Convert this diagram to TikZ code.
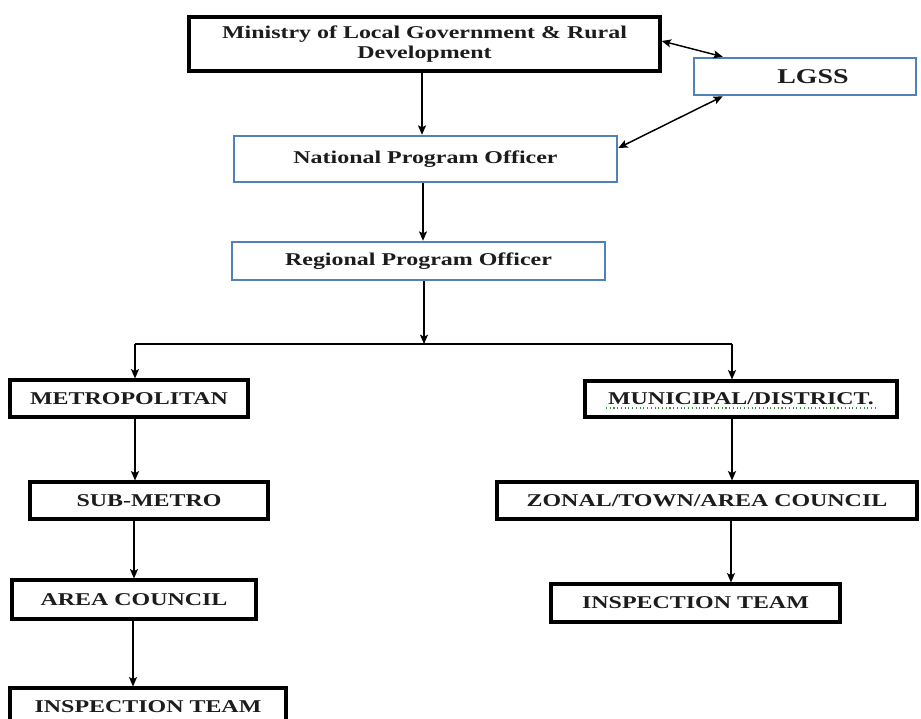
\documentclass[tikz,border=0pt]{standalone}
\usepackage{fontspec}
\setmainfont{Liberation Serif}[FakeStretch=1.33]
\usetikzlibrary{arrows.meta}
\definecolor{boxblue}{RGB}{79,129,189}
\definecolor{txt}{RGB}{28,28,28}
\definecolor{squig}{RGB}{60,140,60}
\begin{document}
\begin{tikzpicture}[x=0.75pt,y=-0.75pt,
  base/.style={rectangle,fill=white,inner sep=0pt,text=txt,
    font=\fontsize{13.5}{15.5}\selectfont\bfseries,align=center},
  blackbox/.style={base,draw=black,line width=2.3pt},
  bluebox/.style={base,draw=boxblue,line width=1.9pt},
  conn/.style={line width=1.1pt,draw=black},
  tip/.style={},
  arr/.style={conn,-{Stealth[length=7pt,width=6pt,inset=1.5pt]}},
  darr/.style={conn,{Stealth[length=7pt,width=6pt,inset=1.5pt]}-{Stealth[length=7pt,width=6pt,inset=1.5pt]}}]
\useasboundingbox (0,0) rectangle (921,718);
\fill[white] (0,0) rectangle (921,718);

% nodes
\node[blackbox,minimum width=353.25pt,minimum height=40.5pt,line width=2.6pt] (min) at (424.5,44)
  {\raisebox{-1.5pt}{\begin{tabular}{@{}c@{}}Ministry of Local Government \& Rural\\[-0.5pt]Development\end{tabular}}};
\node[bluebox,minimum width=166.5pt,minimum height=27.75pt,font=\fontsize{15.75}{18}\selectfont\bfseries] (lgss) at (805,76.5) {\hspace*{12pt}LGSS};
\node[bluebox,minimum width=287.25pt,minimum height=34.5pt] (nat) at (425.5,159) {\raisebox{3pt}{National Program Officer}};
\node[bluebox,minimum width=279.75pt,minimum height=28.5pt] (reg) at (418.5,261) {Regional Program Officer};

\node[blackbox,minimum width=178.5pt,minimum height=27.75pt] (met) at (129,398.5) {METROPOLITAN};
\node[blackbox,minimum width=234pt,minimum height=27pt] (mun) at (741,399) {MUNICIPAL/DISTRICT.};
\node[blackbox,minimum width=178.5pt,minimum height=27.75pt] (sub) at (149,500.5) {SUB-METRO};
\node[blackbox,minimum width=315pt,minimum height=27.75pt] (zon) at (707,500.5) {ZONAL/TOWN/AREA COUNCIL};
\node[blackbox,minimum width=183pt,minimum height=29.25pt] (area) at (134,599.5) {AREA COUNCIL};
\node[blackbox,minimum width=216.75pt,minimum height=28.5pt] (insr) at (695.5,603) {INSPECTION TEAM};
\node[blackbox,minimum width=207pt,minimum height=28.5pt] (insl) at (148,707) {INSPECTION TEAM};

% spell-check squiggle under MUNICIPAL/DISTRICT.
\draw[squig,dotted,line width=0.8pt] (606,408) -- (876,408);

% junction coordinates
\coordinate (jn) at (424,344);
\coordinate (L) at (135,344);
\coordinate (R) at (732,344);

% connectors
\draw[arr] (min.south -| 422,0) -- (nat.north -| 422,0);
\draw[arr] (nat.south -| 423,0) -- (reg.north -| 423,0);
\draw[arr] (reg.south -| jn) -- (jn);
\draw[conn] (L) -- (R);
\draw[arr] (L) -- (met.north -| L);
\draw[arr] (R) -- (mun.north -| R);

\draw[arr] (met.south -| 135,0) -- (sub.north -| 135,0);
\draw[arr] (sub.south -| 134,0) -- (area.north -| 134,0);
\draw[arr] (area.south -| 133,0) -- (insl.north -| 133,0);

\draw[arr] (mun.south -| 732,0) -- (zon.north -| 732,0);
\draw[arr] (zon.south -| 731,0) -- (insr.north -| 731,0);

\draw[darr] ([yshift=2.25pt]min.east) -- ([xshift=22.5pt]lgss.north west);
\draw[darr] ([xshift=22.5pt]lgss.south west) -- ([yshift=8.25pt]nat.east);
\end{tikzpicture}
\end{document}
